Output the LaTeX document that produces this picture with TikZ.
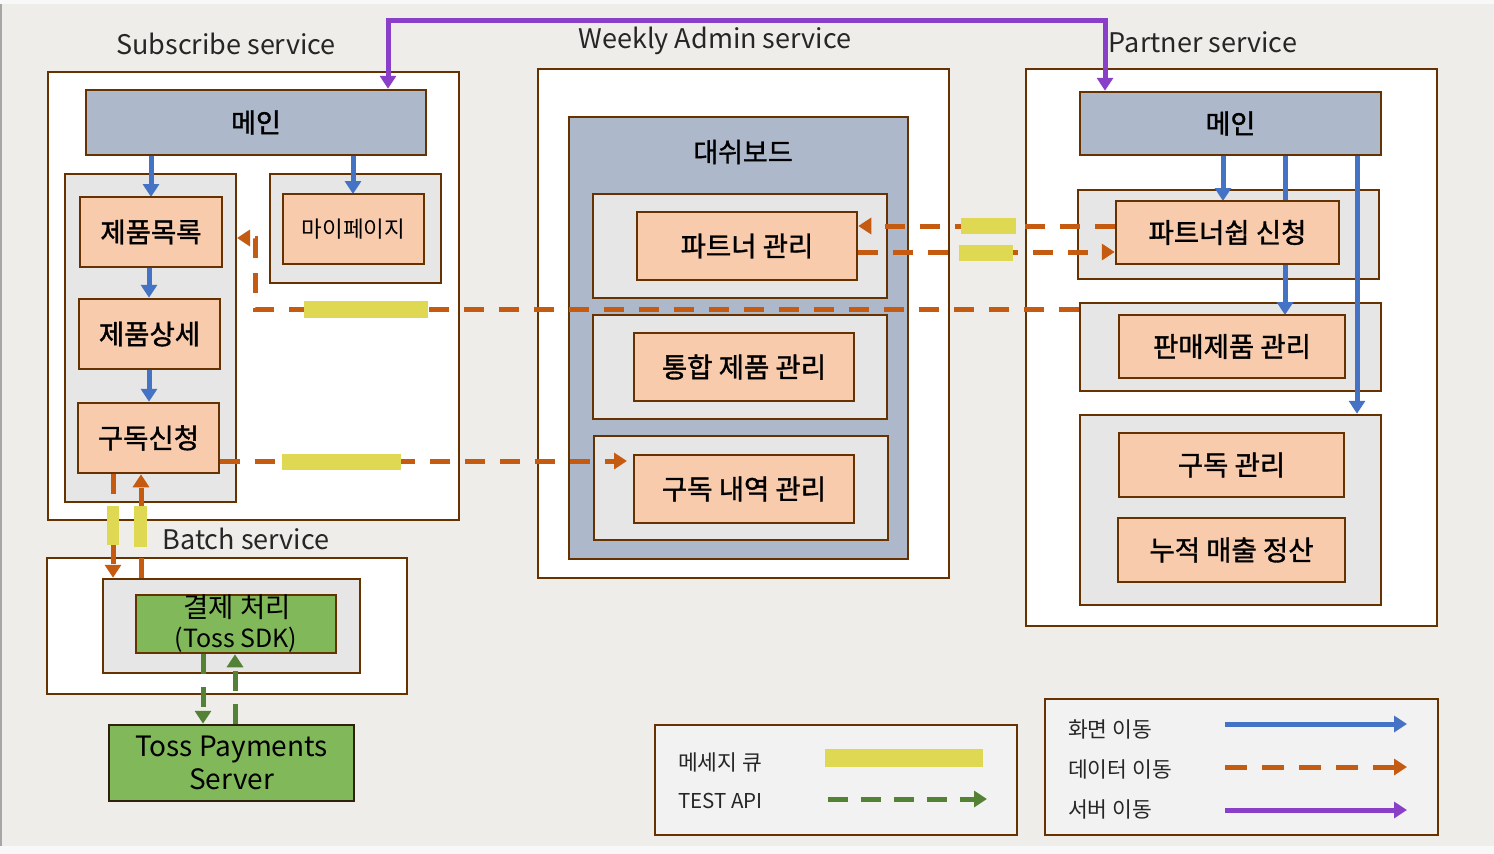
\documentclass[tikz,border=0pt]{standalone}
\usepackage{fontspec}
\setmainfont{Noto Sans CJK KR}
\newfontfamily\boxfont{Noto Sans CJK KR}[FakeBold=1.3]
\usetikzlibrary{arrows.meta}
\definecolor{pagebg}{HTML}{F8F8F8}
\definecolor{canvas}{HTML}{EEEDE9}
\definecolor{brd}{HTML}{663300}
\definecolor{grpgray}{HTML}{E6E6E6}
\definecolor{peach}{HTML}{F8CBAD}
\definecolor{bluegray}{HTML}{ADB9CA}
\definecolor{paygreen}{HTML}{80B85A}
\definecolor{legbg}{HTML}{F2F2F2}
\definecolor{flowblue}{HTML}{4472C4}
\definecolor{dataorange}{HTML}{C55A11}
\definecolor{servpurple}{HTML}{8A3FC9}
\definecolor{apigreen}{HTML}{548235}
\definecolor{mqyellow}{HTML}{DFD852}
\tikzset{
  base/.style={draw=brd, line width=2.5pt, inner sep=0pt, align=center},
  outerbox/.style={base, fill=white},
  grpbox/.style={base, fill=grpgray},
  peachbox/.style={base, fill=peach, font=\boxfont\fontsize{27.5}{31}\selectfont},
  mainbox/.style={base, fill=bluegray, font=\boxfont\fontsize{27}{31}\selectfont},
  greenbox/.style={base, fill=paygreen},
  legbox/.style={base, fill=legbg},
  ttl/.style={inner sep=0pt, font=\fontsize{27}{31}\selectfont, text=black!85},
  legtxt/.style={inner sep=0pt, anchor=west, font=\fontsize{21.5}{25}\selectfont, text=black!85},
  screenflow/.style={draw=flowblue, line width=5pt, -{Triangle[length=13pt,width=16pt]}},
  dataflow/.style={draw=dataorange, line width=5pt, dash pattern=on 20pt off 15pt, -{Triangle[length=13pt,width=16pt]}},
  serverflow/.style={draw=servpurple, line width=5pt, {Triangle[length=13pt,width=16pt]}-{Triangle[length=13pt,width=16pt]}},
  serverflowone/.style={draw=servpurple, line width=5pt, -{Triangle[length=13pt,width=16pt]}},
  apiflow/.style={draw=apigreen, line width=5pt, dash pattern=on 20pt off 13pt, -{Triangle[length=13pt,width=16pt]}},
  mq/.style={fill=mqyellow},
}
\begin{document}
\begin{tikzpicture}[x=1pt,y=-1pt]
\useasboundingbox (0,0) rectangle (1494,854);
\fill[pagebg] (0,0) rectangle (1494,854);
\fill[canvas] (1,4) rectangle (1494,846);
\draw[black!35, line width=1.5pt] (1,4) -- (1,846);

% titles
\node[ttl] (tsub) at (226,44) {Subscribe service};
\node[ttl] (tweek) at (715,41) {Weekly Admin service};
\node[ttl] (tpart) at (1203,42) {Partner service};
\node[ttl] (tbat) at (246,539) {Batch service};

% Subscribe service
\node[outerbox, minimum width=411pt, minimum height=448pt] (subsvc) at (253.5,296) {};
\node[mainbox, minimum width=340pt, minimum height=65pt] (smain) at (256,122.5) {메인};
\node[grpbox, minimum width=171pt, minimum height=328pt] (sgl) at (150.5,338) {};
\node[grpbox, minimum width=171pt, minimum height=109pt] (sgr) at (355.5,228.5) {};

% Batch service
\node[outerbox, minimum width=360pt, minimum height=136pt] (batsvc) at (227,626) {};
\node[grpbox, minimum width=257pt, minimum height=94pt] (bg) at (231.5,626) {};

% Weekly admin
\node[outerbox, minimum width=411pt, minimum height=509pt] (weeksvc) at (743.5,323.5) {};
\node[mainbox, minimum width=339pt, minimum height=442pt] (dash) at (738.5,338) {};
\node[font=\boxfont\fontsize{27}{31}\selectfont, inner sep=0pt] (dashttl) at (743,152) {대쉬보드};
\node[grpbox, minimum width=294pt, minimum height=104pt] (wg1) at (740,246) {};
\node[grpbox, minimum width=294pt, minimum height=104pt] (wg2) at (740,367) {};
\node[grpbox, minimum width=294pt, minimum height=104pt] (wg3) at (741,488) {};

% Partner service
\node[outerbox, minimum width=411pt, minimum height=557pt] (partsvc) at (1231.5,347.5) {};
\node[mainbox, minimum width=301pt, minimum height=63pt] (pmain) at (1230.5,123.5) {메인};
\node[grpbox, minimum width=301pt, minimum height=89pt] (pg1) at (1228.5,234.5) {};
\node[grpbox, minimum width=301pt, minimum height=88pt] (pg2) at (1230.5,347) {};
\node[grpbox, minimum width=301pt, minimum height=190pt] (pg3) at (1230.5,510) {};

% blue screen flows (behind boxes)
\draw[screenflow] (smain.south -| 151,0) -- (151,197);
\draw[screenflow] (smain.south -| 353,0) -- (353,194);
\draw[screenflow] (pmain.south -| 1223,0) -- (1223,201);
\draw[screenflow] (pmain.south -| 1285,0) -- (1285,315);
\draw[screenflow] (pmain.south -| 1357,0) -- (pg3.north -| 1357,0);

% leaf boxes
\node[peachbox, minimum width=142pt, minimum height=70pt] (plist) at (151,232) {제품목록};
\node[peachbox, minimum width=141pt, minimum height=70pt] (pdet) at (149.5,334) {제품상세};
\node[peachbox, minimum width=141pt, minimum height=70pt] (subreq) at (148.5,438) {구독신청};
\node[peachbox, minimum width=141pt, minimum height=70pt, font=\fontsize{22.5}{26}\selectfont] (mypage) at (353.5,229) {마이페이지};
\node[greenbox, minimum width=200pt, minimum height=58pt] (pay) at (236,624) {};
\node[inner sep=0pt, font=\fontsize{27.5}{31}\selectfont] (payt1) at (237,607) {결제 처리};
\node[inner sep=0pt, font=\fontsize{25}{28}\selectfont] (payt2) at (236,640) {(Toss SDK)};
\node[base, fill=paygreen, draw=black!75!brown, minimum width=245pt, minimum height=76pt, font=\fontsize{28}{33}\selectfont] (toss) at (231.5,763) {Toss Payments\\Server};

\node[peachbox, minimum width=220pt, minimum height=68pt] (pmgr) at (747,246) {파트너 관리};
\node[peachbox, minimum width=220pt, minimum height=68pt] (prod) at (744,367) {통합 제품 관리};
\node[peachbox, minimum width=220pt, minimum height=68pt] (subh) at (744,489) {구독 내역 관리};

\node[peachbox, minimum width=223pt, minimum height=63pt] (papply) at (1227.5,232.5) {파트너쉽 신청};
\node[peachbox, minimum width=226pt, minimum height=63pt] (sales) at (1232,346.5) {판매제품 관리};
\node[peachbox, minimum width=225pt, minimum height=64pt] (submgr) at (1231.5,465) {구독 관리};
\node[peachbox, minimum width=227pt, minimum height=64pt] (accum) at (1231.5,550) {누적 매출 정산};

% blue flows inside subscribe list
\draw[screenflow] (plist.south -| 149,0) -- (pdet.north -| 149,0);
\draw[screenflow] (pdet.south -| 149,0) -- (subreq.north -| 149,0);

% purple server flow
\draw[serverflow] (smain.north -| 388,0) -- (388,20) -- (1105,20) -- (pmain.north -| 1105,0);

% orange data flows
\coordinate (loopx) at (255,309);
\coordinate (listtip) at (237,238);
\draw[dataflow] (pg2.west |- loopx) -- (loopx) -- (255,238) -- (listtip);
\draw[dataflow] (papply.west |- 0,226) -- (pmgr.east |- 0,226);
\draw[dataflow] (pmgr.east |- 0,252) -- (papply.west |- 0,252);
\draw[dataflow] (subreq.east |- 0,461) -- (627,461);
\draw[dataflow] (subreq.south -| 113,0) -- (bg.north -| 113,0);
\draw[dataflow] (bg.north -| 141,0) -- (subreq.south -| 141,0);

% green api flows
\draw[apiflow] (pay.south -| 203,0) -- (toss.north -| 203,0);
\draw[apiflow] (toss.north -| 235,0) -- (pay.south -| 235,0);

% message queue marks
\fill[mq] (304,301) rectangle (428,318);
\fill[mq] (282,454) rectangle (401,470);
\fill[mq] (961,218) rectangle (1016,234);
\fill[mq] (959,245) rectangle (1013,261);
\fill[mq] (107,506) rectangle (119,545);
\fill[mq] (134,506) rectangle (147,547);

% legends
\node[legbox, minimum width=362pt, minimum height=110pt] (legl) at (836,780) {};
\node[legtxt] (lmq) at (678,762) {메세지 큐};
\node[legtxt, font=\fontsize{20.5}{24}\selectfont] (lapi) at (678,801) {TEST API};
\fill[mq] (825,749) rectangle (983,767);
\coordinate (la1) at (828,799);
\coordinate (la2) at (987,799);
\draw[apiflow, dash pattern=on 20pt off 13pt] (la1) -- (la2);

\node[legbox, minimum width=393pt, minimum height=136pt] (legr) at (1241.5,767) {};
\node[legtxt] (lscr) at (1068,729) {화면 이동};
\node[legtxt] (ldat) at (1068,769) {데이터 이동};
\node[legtxt] (lsrv) at (1068,809) {서버 이동};
\coordinate (lb1) at (1225,724);
\coordinate (lb2) at (1407,724);
\coordinate (lo1) at (1225,767);
\coordinate (lo2) at (1407,767);
\coordinate (lp1) at (1225,810);
\coordinate (lp2) at (1407,810);
\draw[screenflow] (lb1) -- (lb2);
\draw[dataflow, dash pattern=on 22pt off 15pt] (lo1) -- (lo2);
\draw[serverflowone] (lp1) -- (lp2);
\end{tikzpicture}
\end{document}
